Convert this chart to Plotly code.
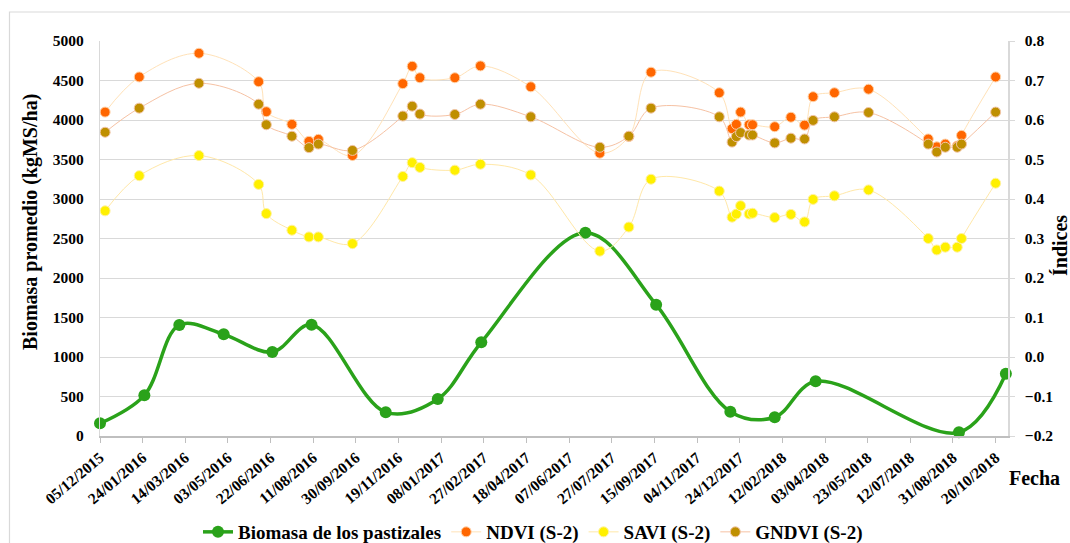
import plotly.graph_objects as go

# ---------------- data ----------------
bio_dates = ["2015-12-05", "2016-01-26", "2016-03-07", "2016-04-28", "2016-06-24",
             "2016-08-09", "2016-11-04", "2017-01-04", "2017-02-24", "2017-06-26",
             "2017-09-17", "2017-12-13", "2018-02-03", "2018-03-23", "2018-09-07",
             "2018-11-01"]
biomasa = [160, 515, 1405, 1287, 1063, 1409, 300, 468, 1186, 2573,
           1662, 308, 237, 692, 47, 789]

idx_dates = ["2015-12-11", "2016-01-20", "2016-03-30", "2016-06-08", "2016-06-17",
             "2016-07-17", "2016-08-06", "2016-08-17", "2016-09-26", "2016-11-24",
             "2016-12-05", "2016-12-14", "2017-01-24", "2017-02-23", "2017-04-23",
             "2017-07-13", "2017-08-16", "2017-09-11", "2017-11-30", "2017-12-15",
             "2017-12-20", "2017-12-25", "2018-01-04", "2018-01-08", "2018-02-03",
             "2018-02-22", "2018-03-10", "2018-03-20", "2018-04-14", "2018-05-24",
             "2018-08-02", "2018-08-12", "2018-08-22", "2018-09-05", "2018-09-10",
             "2018-10-20"]
ndvi = [0.620, 0.709, 0.769, 0.697, 0.621, 0.589, 0.546, 0.551, 0.510, 0.692,
        0.736, 0.707, 0.707, 0.737, 0.684, 0.516, 0.558, 0.721, 0.669, 0.578,
        0.589, 0.620, 0.588, 0.588, 0.583, 0.607, 0.587, 0.659, 0.669, 0.678,
        0.552, 0.532, 0.539, 0.534, 0.561, 0.709]
savi = [0.370, 0.459, 0.510, 0.437, 0.363, 0.321, 0.304, 0.304, 0.287, 0.457,
        0.492, 0.480, 0.473, 0.488, 0.461, 0.268, 0.329, 0.450, 0.420, 0.354,
        0.362, 0.383, 0.362, 0.364, 0.353, 0.361, 0.342, 0.399, 0.408, 0.423,
        0.300, 0.271, 0.278, 0.278, 0.300, 0.440]
gndvi = [0.569, 0.630, 0.693, 0.640, 0.588, 0.559, 0.530, 0.539, 0.523, 0.610,
         0.635, 0.615, 0.614, 0.640, 0.608, 0.531, 0.559, 0.630, 0.608, 0.544,
         0.558, 0.568, 0.562, 0.562, 0.542, 0.554, 0.552, 0.599, 0.608, 0.619,
         0.539, 0.519, 0.531, 0.531, 0.539, 0.620]

series_names = ["Biomasa de los pastizales", "NDVI (S-2)", "SAVI (S-2)", "GNDVI (S-2)"]
left_title = "Biomasa promedio (kgMS/ha)"
right_title = "Índices"
x_title = "Fecha"

# ---------------- figure ----------------
FONT = "Liberation Serif"
W, H = 1070, 543
L, R, T, B = 100, 62, 41, 107
pw, ph = W - L - R, H - T - B

def px_x(p):
    return (p - L) / pw

def px_y(p):
    return (H - B - p) / ph

fig = go.Figure()

fig.add_trace(go.Scatter(
    x=bio_dates, y=biomasa, name=series_names[0], mode="lines+markers",
    line=dict(color="#2AA21A", width=3.5, shape="spline", smoothing=1.0),
    marker=dict(color="#2AA21A", size=12),
    cliponaxis=False, yaxis="y"))

fig.add_trace(go.Scatter(
    x=idx_dates, y=ndvi, name=series_names[1], mode="lines+markers",
    line=dict(color="#FFE2B8", width=1, shape="spline", smoothing=1.0),
    marker=dict(color="#FF6600", size=10, line=dict(color="#FFD2A8", width=1)),
    cliponaxis=False, yaxis="y2"))

fig.add_trace(go.Scatter(
    x=idx_dates, y=savi, name=series_names[2], mode="lines+markers",
    line=dict(color="#FFE8A8", width=1, shape="spline", smoothing=1.0),
    marker=dict(color="#FFF000", size=10, line=dict(color="#FFF2A0", width=1)),
    cliponaxis=False, yaxis="y2"))

fig.add_trace(go.Scatter(
    x=idx_dates, y=gndvi, name=series_names[3], mode="lines+markers",
    line=dict(color="#F6C2A4", width=1, shape="spline", smoothing=1.0),
    marker=dict(color="#BF8F00", size=10, line=dict(color="#F2C6A8", width=1)),
    cliponaxis=False, yaxis="y2"))

tick_font = dict(family=FONT, size=15.5, color="#000000", weight="bold")

fig.update_layout(
    width=W, height=H,
    margin=dict(l=L, r=R, t=T, b=B, autoexpand=False),
    paper_bgcolor="white", plot_bgcolor="white",
    font=dict(family=FONT, color="#000000"),
    showlegend=True,
    legend=dict(orientation="h", x=px_x(533), y=px_y(532), xanchor="center",
                yanchor="middle", font=dict(family=FONT, size=19, weight="bold"),
                itemwidth=30, tracegroupgap=0, bgcolor="rgba(0,0,0,0)"),
    xaxis=dict(
        type="date", automargin=False,
        range=["2015-12-05", "2018-11-03 12:00"],
        tick0="2015-12-05", dtick=50 * 86400000,
        tickformat="%d/%m/%Y", tickangle=-40,
        tickfont=dict(family=FONT, size=15.5, color="#000000", weight="bold"),
        ticks="outside", ticklen=5, tickcolor="#BFBFBF",
        showline=True, linecolor="#BFBFBF", linewidth=1.5, mirror=False,
        showgrid=False, zeroline=False,
    ),
    yaxis=dict(
        range=[0, 5000], dtick=500, tickfont=tick_font, automargin=False,
        showgrid=True, gridcolor="#D9D9D9", gridwidth=1.3,
        showline=True, linecolor="#D9D9D9", linewidth=1.3,
        ticks="", ticklabelstandoff=12, zeroline=False,
    ),
    yaxis2=dict(
        range=[-0.2, 0.8], dtick=0.1, tickformat=".1f", tickfont=tick_font,
        overlaying="y", side="right", showgrid=False, automargin=False,
        showline=True, linecolor="#D9D9D9", linewidth=1.5,
        ticks="outside", ticklen=5, tickcolor="#D9D9D9",
        ticklabelstandoff=7, zeroline=False,
    ),
)

# chart outer border (Excel chart area)
fig.add_shape(type="rect", xref="paper", yref="paper",
              x0=px_x(9.5), x1=px_x(1090), y0=px_y(570), y1=px_y(12),
              line=dict(color="#D9D9D9", width=1.2), layer="below")

fig.add_annotation(text=left_title, xref="paper", yref="paper",
                   x=px_x(30), y=px_y(222), textangle=-90, showarrow=False,
                   xanchor="center", yanchor="middle",
                   font=dict(family=FONT, size=20, weight="bold", color="#000000"))
fig.add_annotation(text=right_title, xref="paper", yref="paper",
                   x=px_x(1060), y=px_y(246), textangle=-90, showarrow=False,
                   xanchor="center", yanchor="middle",
                   font=dict(family=FONT, size=20, weight="bold", color="#000000"))
fig.add_annotation(text=x_title, xref="paper", yref="paper",
                   x=px_x(1034), y=px_y(478), showarrow=False,
                   xanchor="center", yanchor="middle",
                   font=dict(family=FONT, size=20, weight="bold", color="#000000"))

fig.write_html("out.html")
